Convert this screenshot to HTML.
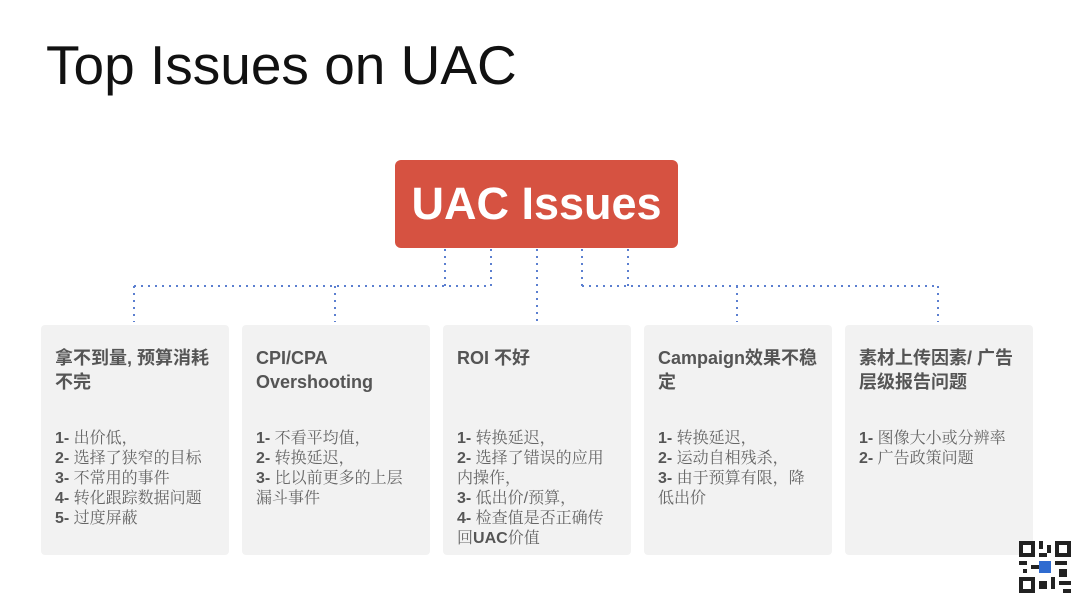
<!DOCTYPE html>
<html><head><meta charset="utf-8"><style>
body{margin:0;width:1080px;height:595px;background:#fff;position:relative;overflow:hidden;font-family:"Liberation Sans","Noto Sans CJK SC",sans-serif}
.t{position:absolute;left:46px;top:33px;font-size:55px;color:#111}
.red{position:absolute;left:395px;top:160px;width:283px;height:88px;background:#d65241;border-radius:6px;color:#fff;font-weight:bold;font-size:45px;text-align:center;line-height:88px}
.b{position:absolute;top:325px;width:188px;height:230px;background:#f2f2f2;border-radius:4px}
.h{position:absolute;left:14px;top:21px;width:162px;font-size:18px;font-weight:bold;color:#555;line-height:24px}
.l{position:absolute;left:14px;top:104px;width:162px;font-size:16px;color:#666;line-height:20px;font-family:"Liberation Sans","Noto Serif CJK SC",serif}
.l b{font-family:"Liberation Sans",sans-serif;color:#555}
</style></head><body>
<div class="t">Top Issues on UAC</div>
<div class="red">UAC Issues</div>
<svg width="1080" height="595" style="position:absolute;left:0;top:0">
<g stroke="#5b7fd0" stroke-width="2" stroke-dasharray="2 5" fill="none">
<path d="M445 249V286M491 249V286M134 286H491M134 286V322M335 286V322M537 249V322M582 249V286M628 249V286M582 286H938M737 286V322M938 286V322"/>
</g></svg>
<div class="b" style="left:41px"><div class="h">拿不到量, 预算消耗不完</div><div class="l"><b>1-</b> 出价低，<br><b>2-</b> 选择了狭窄的目标<br><b>3-</b> 不常用的事件<br><b>4-</b> 转化跟踪数据问题<br><b>5-</b> 过度屏蔽</div></div>
<div class="b" style="left:242px"><div class="h">CPI/CPA Overshooting</div><div class="l"><b>1-</b> 不看平均值，<br><b>2-</b> 转换延迟，<br><b>3-</b> 比以前更多的上层<br>漏斗事件</div></div>
<div class="b" style="left:443px"><div class="h">ROI 不好</div><div class="l"><b>1-</b> 转换延迟，<br><b>2-</b> 选择了错误的应用<br>内操作，<br><b>3-</b> 低出价/预算，<br><b>4-</b> 检查值是否正确传<br>回<b>UAC</b>价值</div></div>
<div class="b" style="left:644px"><div class="h">Campaign效果不稳<br>定</div><div class="l"><b>1-</b> 转换延迟，<br><b>2-</b> 运动自相残杀，<br><b>3-</b> 由于预算有限，降<br>低出价</div></div>
<div class="b" style="left:845px"><div class="h">素材上传因素/ 广告<br>层级报告问题</div><div class="l"><b>1-</b> 图像大小或分辨率<br><b>2-</b> 广告政策问题</div></div>
<svg width="52" height="52" style="position:absolute;left:1019px;top:541px" viewBox="0 0 13 13">
<rect width="13" height="13" fill="#fff"/>
<g fill="#222"><rect x="0" y="0" width="4" height="4"/><rect x="9" y="0" width="4" height="4"/><rect x="0" y="9" width="4" height="4"/>
<rect x="5" y="0" width="1" height="2"/><rect x="7" y="1" width="1" height="2"/><rect x="5" y="3" width="2" height="1"/><rect x="0" y="5" width="2" height="1"/><rect x="3" y="6" width="2" height="1"/><rect x="9" y="5" width="3" height="1"/><rect x="10" y="7" width="2" height="2"/><rect x="5" y="10" width="2" height="2"/><rect x="8" y="9" width="1" height="3"/><rect x="10" y="10" width="3" height="1"/><rect x="1" y="7" width="1" height="1"/><rect x="11" y="12" width="2" height="1"/></g>
<g fill="#fff"><rect x="1" y="1" width="2" height="2"/><rect x="10" y="1" width="2" height="2"/><rect x="1" y="10" width="2" height="2"/></g>
<rect x="5" y="5" width="3" height="3" fill="#2f6bd0"/></svg>
</body></html>
